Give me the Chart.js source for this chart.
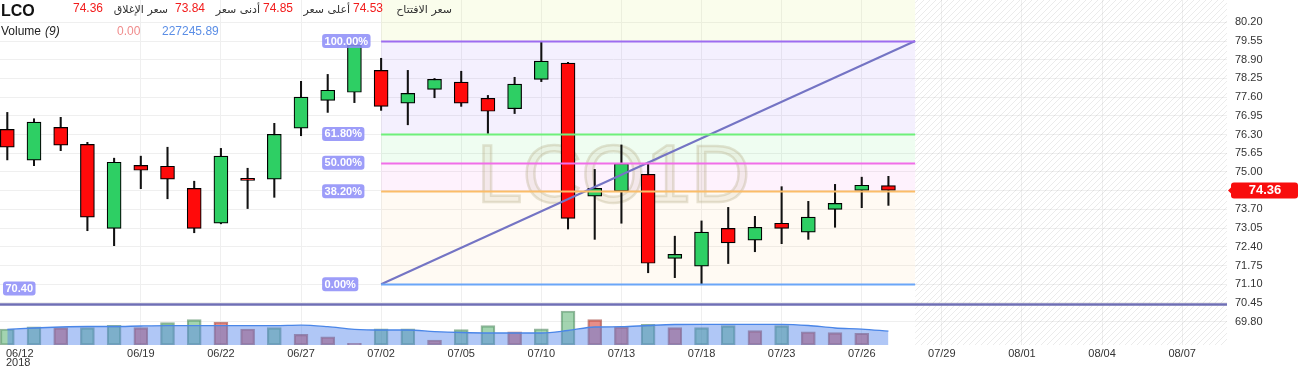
<!DOCTYPE html>
<html>
<head>
<meta charset="utf-8">
<script src="https://cdn.jsdelivr.net/npm/chart.js@4.4.1/dist/chart.umd.min.js"></script>
<style>
  html, body { margin: 0; padding: 0; background: #fff; }
  #chart { display: block; }
</style>
</head>
<body>
<canvas id="chart" width="1299" height="372"></canvas>
<script>
// LCO daily candles, 2018
const symbol = "LCO";
const year = "2018";
const dates = ["06/12","06/13","06/14","06/15","06/18","06/19","06/20","06/21","06/22","06/25","06/26","06/27","06/28","06/29","07/02","07/03","07/04","07/05","07/06","07/09","07/10","07/11","07/12","07/13","07/16","07/17","07/18","07/19","07/20","07/23","07/24","07/25","07/26","07/27"];
const futureDates = ["07/28","07/29","07/30","07/31","08/01","08/02","08/03","08/04","08/05","08/06","08/07","08/08"];
const opens  = [76.48,75.41,76.55,75.96,73.04,75.23,75.20,74.43,73.22,74.78,74.75,76.52,77.49,77.77,78.53,77.39,77.87,78.12,77.56,77.20,78.22,78.78,74.16,74.34,74.92,72.00,71.73,73.04,72.63,73.22,72.91,73.70,74.36,74.53];
const highs  = [77.07,76.85,76.90,76.03,75.48,75.55,75.86,74.68,75.82,75.13,76.69,78.15,78.39,79.62,78.95,78.53,78.25,78.50,77.66,78.29,79.52,78.81,75.09,75.94,75.34,72.77,73.30,73.77,73.46,74.49,73.98,74.57,74.82,74.85];
const lows   = [75.42,75.22,75.74,72.96,72.44,74.42,74.07,72.89,73.20,73.73,74.12,76.26,77.07,77.41,77.14,76.64,77.58,77.28,76.34,77.03,78.14,73.02,72.66,73.22,71.50,71.33,71.12,71.82,72.23,72.51,72.66,73.08,73.76,73.84];
const closes = [75.86,76.73,75.93,73.43,75.34,75.06,74.75,73.04,75.55,74.71,76.31,77.60,77.84,79.42,77.28,77.73,78.22,77.39,77.11,78.05,78.85,73.39,74.43,75.30,71.83,72.14,72.91,72.54,73.08,73.04,73.43,73.91,74.54,74.36];
const volumes = [262000,300000,284000,284000,323000,284000,366000,415000,377000,262000,284000,175000,136000,28000,267000,267000,82000,251000,317000,218000,267000,558000,415000,300000,339000,284000,284000,317000,235000,317000,218000,202000,192000,0];
const volUp = [1,1,0,1,1,0,1,1,0,0,1,0,0,0,1,1,0,1,1,0,1,1,0,0,1,0,1,1,0,1,0,0,0,0];
const volMa = [257000,279000,295000,303000,303000,312000,317000,317000,317000,317000,317000,325000,300000,257000,246000,246000,221000,205000,197000,197000,197000,238000,295000,300000,320000,336000,339000,339000,339000,339000,320000,279000,262000,227245.89];
const priceTicks = [69.80,70.45,71.10,71.75,72.40,73.05,73.70,74.35,75.00,75.65,76.30,76.95,77.60,78.25,78.90,79.55,80.20];

// drawings on the chart
const fibLow = 71.10, fibHigh = 79.55, fibFrom = 14, fibTo = 34;
const fibLevels = [0, 0.382, 0.5, 0.618, 1];
const hLine = 70.40;

const FONT = '"Liberation Sans", Arial, sans-serif';
const fibLineColors = ["#6aa6f8", "#fbbd68", "#f06ee8", "#6ef07a", "#9d6cf0"];
const fibBandColors = ["rgba(250,190,100,0.08)", "rgba(240,110,235,0.09)", "rgba(100,240,120,0.1)", "rgba(150,110,250,0.1)"];

function makeHatch(ctx) {
  const c = document.createElement("canvas");
  c.width = 6; c.height = 6;
  const g = c.getContext("2d");
  g.strokeStyle = "rgba(0,0,0,0.08)";
  g.lineWidth = 1;
  g.beginPath();
  g.moveTo(0, 6); g.lineTo(6, 0);
  g.moveTo(-1, 1); g.lineTo(1, -1);
  g.moveTo(5, 7); g.lineTo(7, 5);
  g.stroke();
  return ctx.createPattern(c, "repeat");
}

function roundBox(ctx, x, y, w, h, r) {
  ctx.beginPath();
  ctx.moveTo(x + r, y);
  ctx.arcTo(x + w, y, x + w, y + h, r);
  ctx.arcTo(x + w, y + h, x, y + h, r);
  ctx.arcTo(x, y + h, x, y, r);
  ctx.arcTo(x, y, x + w, y, r);
  ctx.closePath();
}

function tagLabel(ctx, text, left, cy) {
  ctx.font = "bold 11px " + FONT;
  const w = ctx.measureText(text).width + 5;
  ctx.fillStyle = "rgba(140,140,248,0.85)";
  roundBox(ctx, left, cy - 7, w, 14, 3);
  ctx.fill();
  ctx.fillStyle = "#fff";
  ctx.textAlign = "left";
  ctx.textBaseline = "middle";
  ctx.fillText(text, left + 2.5, cy + 0.5);
}

const overlay = {
  id: "overlay",
  beforeDatasetsDraw(chart) {
    const { ctx, chartArea: a, scales: { x, y } } = chart;
    ctx.save();
    ctx.beginPath();
    ctx.rect(a.left, a.top, a.right - a.left, a.bottom - a.top);
    ctx.clip();

    const hx = x.getPixelForValue(dates.length);
    ctx.fillStyle = makeHatch(ctx);
    ctx.fillRect(hx, a.top, a.right - hx, a.bottom - a.top);

    const x0 = x.getPixelForValue(fibFrom), x1 = x.getPixelForValue(fibTo);
    const lv = fibLevels.map(l => y.getPixelForValue(fibLow + (fibHigh - fibLow) * l));
    ctx.fillStyle = "rgba(210,240,100,0.12)";
    ctx.fillRect(x0, a.top, x1 - x0, lv[lv.length - 1] - a.top);
    for (let i = 0; i < lv.length - 1; i++) {
      ctx.fillStyle = fibBandColors[i];
      ctx.fillRect(x0, lv[i + 1], x1 - x0, lv[i] - lv[i + 1]);
    }

    ctx.font = "82px " + FONT;
    ctx.textAlign = "center";
    ctx.textBaseline = "alphabetic";
    const cx = (a.left + a.right) / 2, cy = (a.top + a.bottom) / 2 + 29;
    ctx.fillStyle = "rgba(190,180,140,0.16)";
    ctx.fillText(symbol + "1D", cx, cy);
    ctx.strokeStyle = "rgba(175,165,125,0.3)";
    ctx.lineWidth = 2.5;
    ctx.strokeText(symbol + "1D", cx, cy);
    ctx.restore();
  },
  afterDatasetsDraw(chart) {
    const { ctx, chartArea: a, scales: { x, y } } = chart;
    ctx.save();
    const x0 = x.getPixelForValue(fibFrom), x1 = x.getPixelForValue(fibTo);
    fibLevels.forEach((l, i) => {
      const py = Math.round(y.getPixelForValue(fibLow + (fibHigh - fibLow) * l)) + 0.5;
      ctx.strokeStyle = fibLineColors[i];
      ctx.lineWidth = 2;
      ctx.beginPath();
      ctx.moveTo(x0, py); ctx.lineTo(x1, py);
      ctx.stroke();
    });
    const hy = y.getPixelForValue(hLine);
    ctx.strokeStyle = "#6f6fb5";
    ctx.lineWidth = 2.5;
    ctx.beginPath();
    ctx.moveTo(a.left, hy); ctx.lineTo(a.right, hy);
    ctx.stroke();

    fibLevels.forEach(l => {
      const py = y.getPixelForValue(fibLow + (fibHigh - fibLow) * l);
      tagLabel(ctx, (l * 100).toFixed(2) + "%", x0 - 59, py);
    });
    tagLabel(ctx, hLine.toFixed(2), a.left + 3, hy - 16);
    ctx.restore();
  },
  afterDraw(chart) {
    const { ctx, chartArea: a, scales: { y } } = chart;
    const n = closes.length - 1;
    ctx.save();
    ctx.textBaseline = "alphabetic";
    ctx.textAlign = "left";
    ctx.fillStyle = "#111";
    ctx.font = "bold 16px " + FONT;
    ctx.fillText(symbol, 1, 16);

    ctx.font = "12px " + FONT;
    ctx.fillStyle = "#f21b1b";
    ctx.fillText(closes[n].toFixed(2), 73, 12);
    ctx.fillText(lows[n].toFixed(2), 175, 12);
    ctx.fillText(highs[n].toFixed(2), 263, 12);
    ctx.fillText(opens[n].toFixed(2), 353, 12);
    ctx.fillStyle = "#333";
    ctx.textAlign = "right";
    ctx.font = '11px "DejaVu Sans", sans-serif';
    ctx.fillText("سعر الإغلاق", 168, 13);
    ctx.fillText("أدنى سعر", 260, 13);
    ctx.fillText("أعلى سعر", 350, 13);
    ctx.fillText("سعر الافتتاح", 452, 13);

    ctx.textAlign = "left";
    ctx.font = "12px " + FONT;
    ctx.fillStyle = "#222";
    ctx.fillText("Volume", 1, 35);
    ctx.font = "italic 12px " + FONT;
    ctx.fillText("(9)", 45, 35);
    ctx.font = "12px " + FONT;
    ctx.fillStyle = "#f08c8c";
    ctx.fillText(volumes[n].toFixed(2), 117, 35);
    ctx.fillStyle = "#5b8ee6";
    ctx.fillText(volMa[n].toFixed(2), 162, 35);

    // first date label with year
    ctx.font = "11px " + FONT;
    ctx.fillStyle = "#333";
    ctx.textBaseline = "middle";
    ctx.fillText(dates[0], 6, 353.5);
    ctx.fillText(year, 6, 363);

    // last price tag
    const py = y.getPixelForValue(closes[n]);
    const bx = a.right + 4;
    ctx.fillStyle = "#f80d0d";
    roundBox(ctx, bx, py - 8, chart.width - bx - 1, 16, 3);
    ctx.fill();
    ctx.beginPath();
    ctx.moveTo(bx - 3, py); ctx.lineTo(bx + 2, py - 5); ctx.lineTo(bx + 2, py + 5);
    ctx.closePath();
    ctx.fill();
    ctx.fillStyle = "#fff";
    ctx.font = "bold 13px " + FONT;
    ctx.textAlign = "center";
    ctx.fillText(closes[n].toFixed(2), (bx + chart.width) / 2, py + 0.5);
    ctx.restore();
  }
};

const upColor = "#2ecf64", downColor = "#ff0a0a";
const xTicks = [];
for (let i = 5; i < dates.length + futureDates.length; i += 3) xTicks.push(i);

const noPad = (scale) => {
  scale.paddingTop = 0; scale.paddingBottom = 0;
  scale.paddingLeft = 0; scale.paddingRight = 0;
};

const ctx = document.getElementById("chart").getContext("2d");
new Chart(ctx, {
  type: "bar",
  data: {
    datasets: [
      {
        type: "line",
        label: "trend",
        data: [{ x: fibFrom, y: fibLow }, { x: fibTo, y: fibHigh }],
        yAxisID: "y",
        borderColor: "#7474c4",
        borderWidth: 2,
        pointRadius: 0,
        fill: false,
        order: 0,
      },
      {
        label: "body",
        data: opens.map((o, i) => ({ x: i, y: [o, closes[i]] })),
        yAxisID: "y",
        backgroundColor: (c) => closes[c.dataIndex] >= opens[c.dataIndex] ? upColor : downColor,
        borderColor: "#000",
        borderWidth: 1.2,
        borderSkipped: false,
        barThickness: 14,
        grouped: false,
        order: 2,
      },
      {
        label: "wick",
        data: lows.map((l, i) => ({ x: i, y: [l, highs[i]] })),
        yAxisID: "y",
        backgroundColor: "#111",
        borderWidth: 0,
        barThickness: 1.4,
        grouped: false,
        order: 3,
      },
      {
        type: "line",
        label: "Volume MA (9)",
        data: volMa.map((v, i) => ({ x: i, y: v })),
        yAxisID: "yVol",
        borderColor: "#4a86e8",
        borderWidth: 1.3,
        backgroundColor: "rgba(80,130,235,0.45)",
        fill: "origin",
        pointRadius: 0,
        cubicInterpolationMode: "monotone",
        order: 4,
      },
      {
        label: "Volume",
        data: volumes.map((v, i) => ({ x: i, y: v })),
        yAxisID: "yVol",
        backgroundColor: (c) => volUp[c.dataIndex] ? "rgba(50,160,80,0.45)" : "rgba(210,50,40,0.55)",
        borderColor: (c) => volUp[c.dataIndex] ? "rgba(40,110,60,0.5)" : "rgba(150,40,30,0.55)",
        borderWidth: 1.5,
        borderSkipped: false,
        barThickness: 14,
        grouped: false,
        order: 5,
      },
    ],
  },
  options: {
    responsive: false,
    animation: false,
    devicePixelRatio: 1,
    layout: { padding: 0 },
    plugins: {
      legend: { display: false },
      tooltip: { enabled: false },
    },
    scales: {
      x: {
        type: "linear",
        min: -0.2734,
        max: 45.68,
        offset: false,
        afterBuildTicks: (scale) => { scale.ticks = xTicks.map(v => ({ value: v })); },
        afterFit: (scale) => { scale.height = 27; noPad(scale); },
        ticks: {
          autoSkip: false,
          maxRotation: 0,
          padding: 2,
          color: "#333",
          font: { family: FONT, size: 11 },
          callback: (v) => v < dates.length ? dates[v] : futureDates[v - dates.length],
        },
        grid: { color: "#efefef", drawTicks: false, offset: false },
        border: { display: false },
      },
      y: {
        position: "right",
        min: 68.99,
        max: 80.975,
        afterBuildTicks: (scale) => { scale.ticks = priceTicks.map(v => ({ value: v })); },
        afterFit: (scale) => { scale.width = 72; noPad(scale); },
        ticks: {
          padding: 8,
          color: "#333",
          font: { family: FONT, size: 11 },
          callback: (v) => Number(v).toFixed(2),
        },
        grid: { color: "#efefef", drawTicks: false },
        border: { display: false },
      },
      yVol: {
        display: false,
        min: 0,
        max: 5658000,
      },
    },
  },
  plugins: [overlay],
});
</script>
</body>
</html>
